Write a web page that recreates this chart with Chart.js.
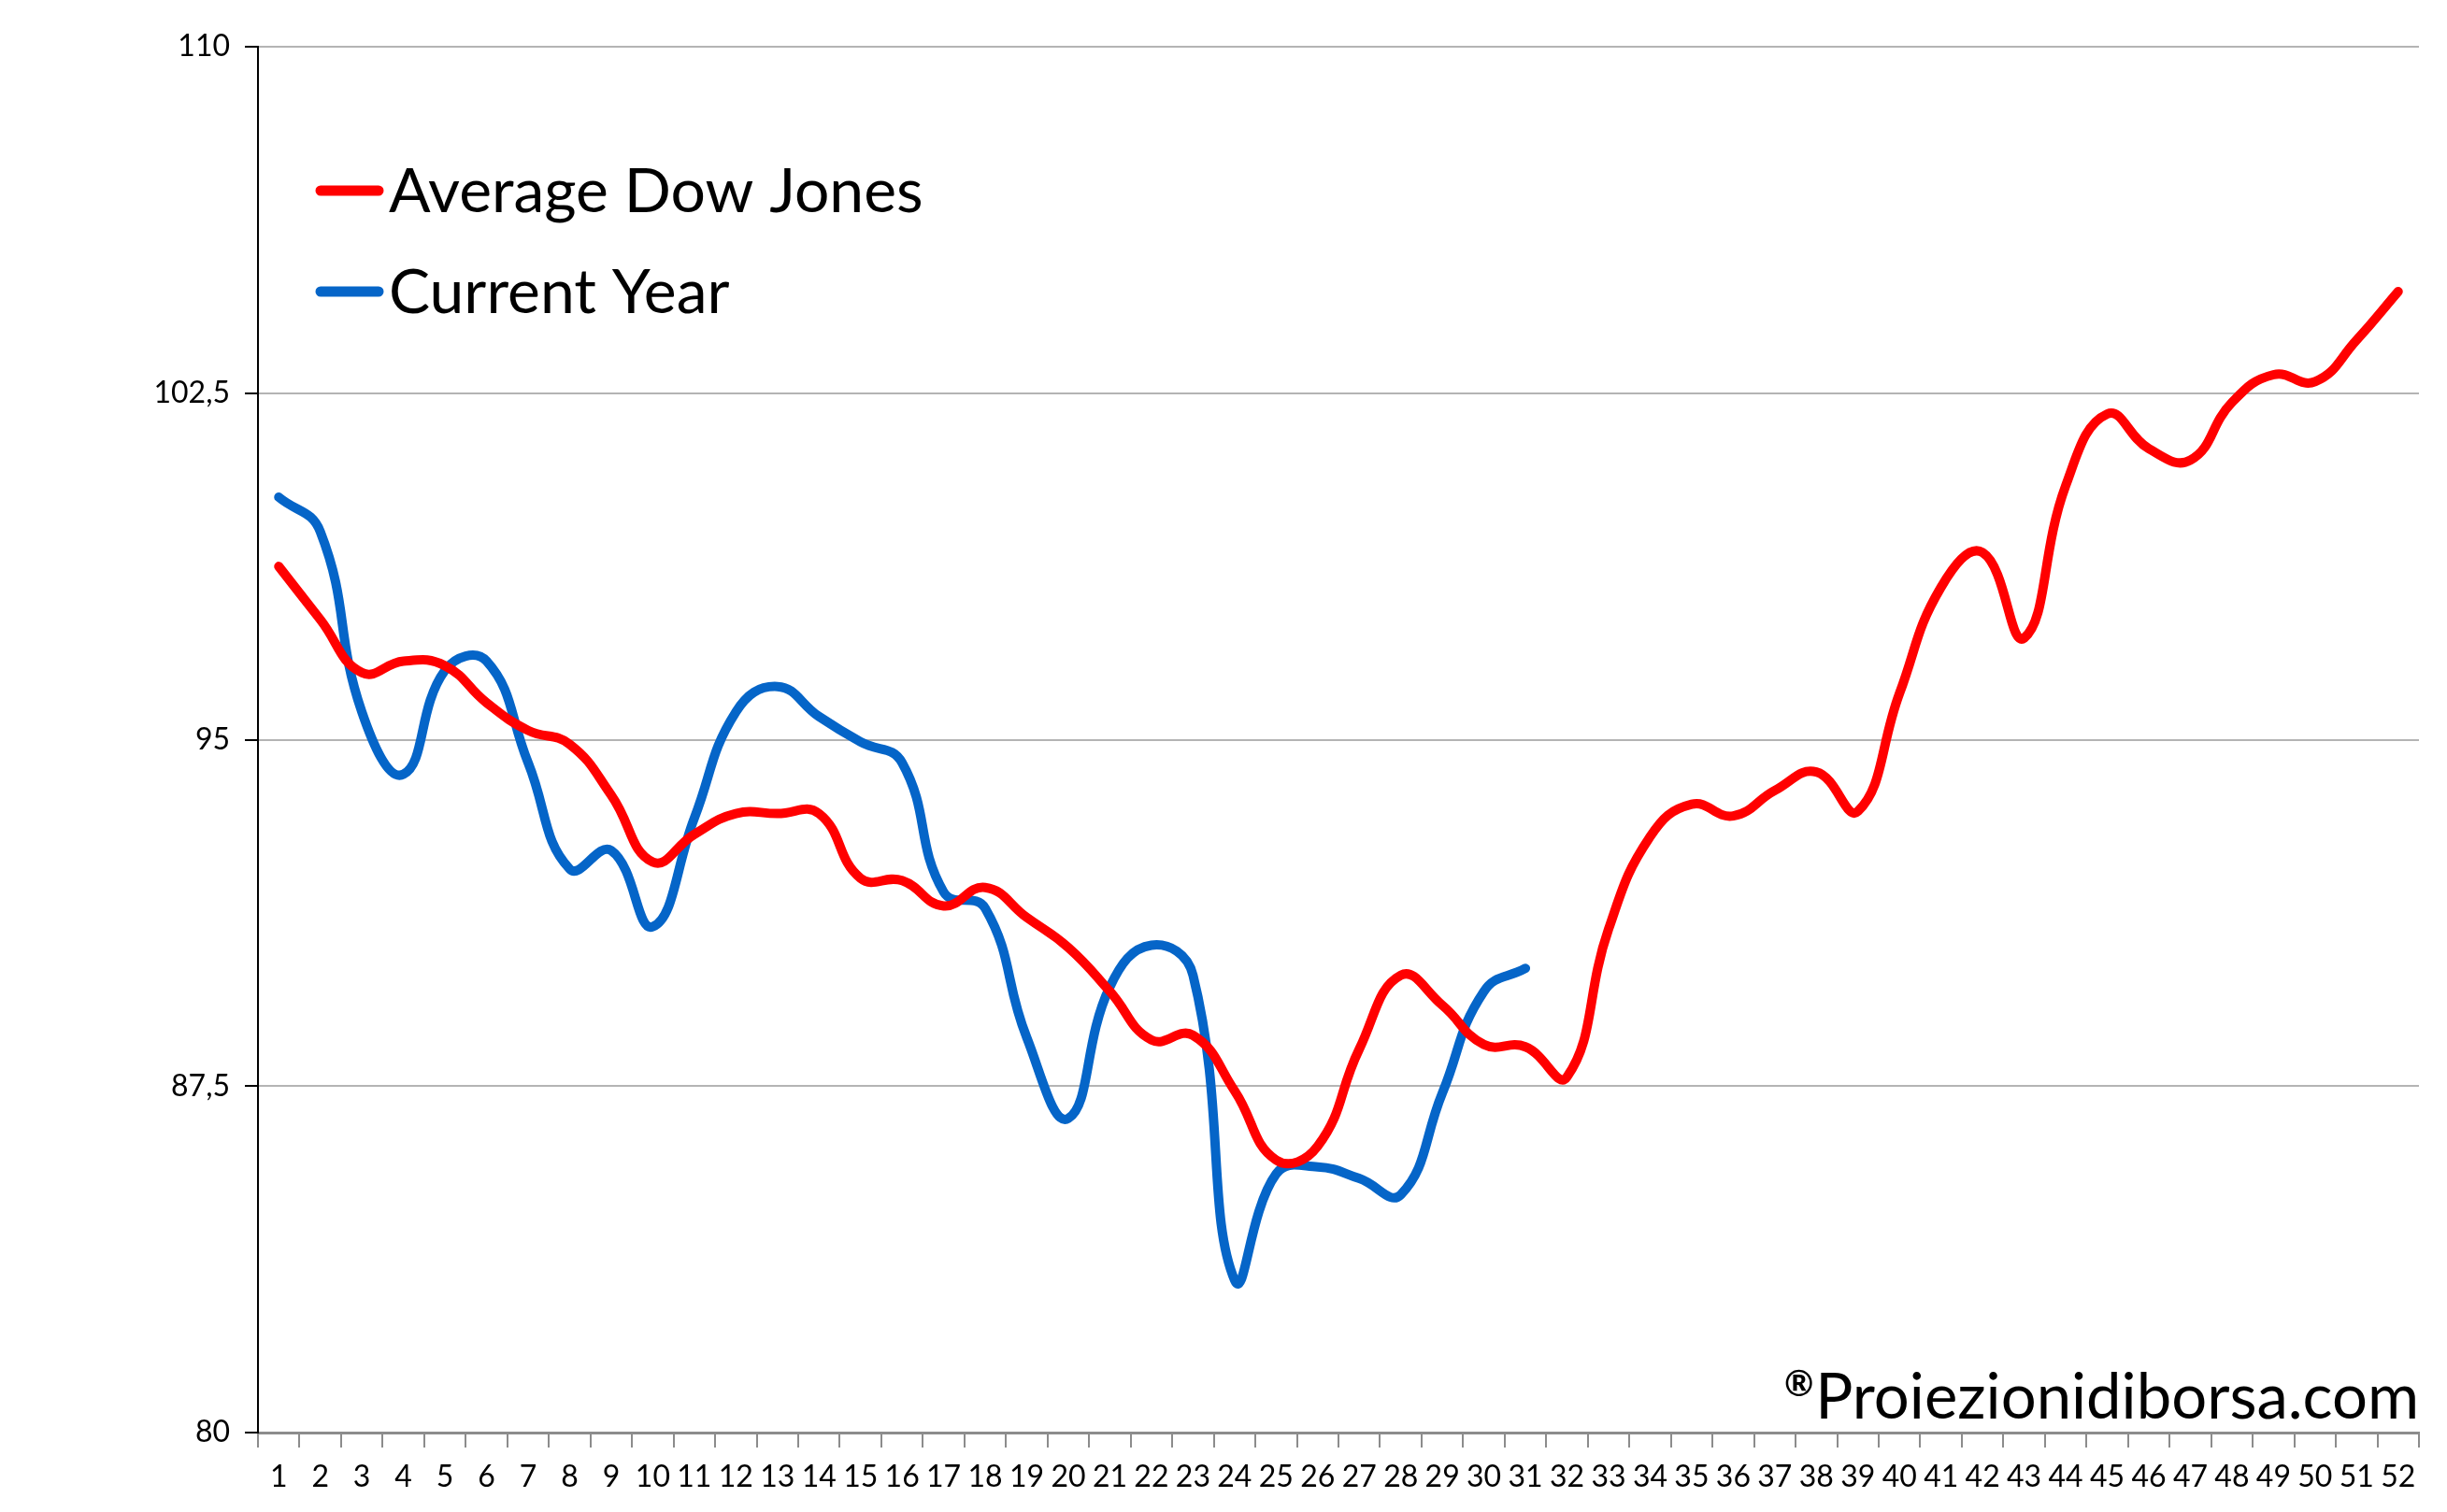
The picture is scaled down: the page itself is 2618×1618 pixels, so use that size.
<!DOCTYPE html>
<html>
<head>
<meta charset="utf-8">
<script src="https://cdn.jsdelivr.net/npm/chart.js@4.4.0/dist/chart.umd.min.js"></script>
<style>
  html, body { margin: 0; padding: 0; background: #fff; }
  #wrap { width: 2618px; height: 1618px; }
</style>
</head>
<body>
<div id="wrap"><canvas id="dowChart" width="2618" height="1618"></canvas></div>
<script>
const weeks = ['1','2','3','4','5','6','7','8','9','10','11','12','13','14','15','16','17','18','19','20',
    '21','22','23','24','25','26','27','28','29','30','31','32','33','34','35','36','37','38','39','40',
    '41','42','43','44','45','46','47','48','49','50','51','52'];

const averageDow = [98.75, 97.6, 96.45, 96.7, 96.6, 95.8, 95.2, 94.9, 93.8, 92.35,
    92.95, 93.4, 93.4, 93.4, 92.0, 91.95, 91.4, 91.8, 91.15, 90.5,
    89.55, 88.5, 88.6, 87.4, 85.9, 86.2, 88.3, 89.9, 89.25, 88.4,
    88.35, 87.7, 90.9, 92.9, 93.6, 93.35, 93.9, 94.3, 93.45, 96.0,
    98.3, 99.05, 97.2, 100.5, 102.05, 101.3, 101.05, 102.3, 102.9, 102.75,
    103.65, 104.7];

const currentYear = [100.25, 99.5, 95.6, 94.25, 96.5, 96.7, 94.5, 92.2, 92.6, 90.95,
    93.3, 95.6, 96.15, 95.5, 94.95, 94.5, 91.7, 91.35, 88.55, 86.8,
    89.65, 90.55, 89.9, 83.3, 85.6, 85.75, 85.5, 85.15, 87.35, 89.55,
    90.05];

const yTicks = [80, 87.5, 95, 102.5, 110];

const seriesNames = ['Average Dow Jones', 'Current Year'];
const seriesColors = ['#FF0000', '#0565C8'];
const watermarkMark = '\u00AE';
const watermark = 'Proiezionidiborsa.com';

const FONT = 'Lato, "Open Sans", sans-serif';

const overlayPlugin = {
    id: 'overlay',
    afterDraw(chart) {
        const ctx = chart.ctx;
        ctx.save();
        // legend
        ctx.lineCap = 'round';
        ctx.lineWidth = 11;
        ctx.font = '66px ' + FONT;
        ctx.textBaseline = 'middle';
        ctx.textAlign = 'left';
        seriesNames.forEach((name, i) => {
            const y = 204 + i * 108;
            ctx.strokeStyle = seriesColors[i];
            ctx.beginPath();
            ctx.moveTo(343, y);
            ctx.lineTo(405, y);
            ctx.stroke();
            ctx.fillStyle = '#000';
            ctx.fillText(name, 416, y + 2);
        });
        // watermark, small raised ® in front
        ctx.textAlign = 'right';
        ctx.textBaseline = 'alphabetic';
        ctx.font = '67px ' + FONT;
        const right = chart.chartArea.right;
        ctx.fillText(watermark, right, 1518);
        const w = ctx.measureText(watermark).width;
        ctx.font = 'bold 38px ' + FONT;
        ctx.fillText(watermarkMark, right - w - 2, 1494);
        ctx.restore();
    }
};

new Chart(document.getElementById('dowChart'), {
    type: 'line',
    data: {
        labels: weeks,
        datasets: [
            {
                label: seriesNames[0],
                data: averageDow,
                borderColor: seriesColors[0],
                borderWidth: 10,
                borderCapStyle: 'round',
                pointRadius: 0,
                tension: 0.45,
                fill: false
            },
            {
                label: seriesNames[1],
                data: currentYear,
                borderColor: seriesColors[1],
                borderWidth: 10,
                borderCapStyle: 'round',
                pointRadius: 0,
                tension: 0.45,
                fill: false
            }
        ]
    },
    options: {
        responsive: false,
        animation: false,
        devicePixelRatio: 1,
        layout: { padding: { left: 0, top: 50, right: 30, bottom: 0 } },
        plugins: {
            legend: { display: false },
            title: { display: false },
            tooltip: { enabled: false }
        },
        scales: {
            x: {
                type: 'category',
                offset: true,
                grid: {
                    offset: true,
                    drawOnChartArea: false,
                    drawTicks: true,
                    tickLength: 16,
                    tickColor: '#8c8c8c',
                    lineWidth: 2
                },
                border: { color: '#8c8c8c', width: 3 },
                ticks: {
                    color: '#000',
                    font: { family: FONT, size: 32 },
                    padding: 12,
                    maxRotation: 0,
                    autoSkip: false
                },
                afterFit(scale) { scale.height = 85; }
            },
            y: {
                min: 80,
                max: 110,
                afterBuildTicks(scale) {
                    scale.ticks = yTicks.map(v => ({ value: v }));
                },
                grid: {
                    color: '#b4b4b4',
                    lineWidth: 2,
                    tickLength: 14,
                    tickColor: '#000'
                },
                border: { color: '#000', width: 2 },
                ticks: {
                    color: '#000',
                    font: { family: FONT, size: 32 },
                    padding: 16,
                    callback: v => String(v).replace('.', ',')
                },
                afterFit(scale) { scale.width = 276; }
            }
        }
    },
    plugins: [overlayPlugin]
});
</script>
</body>
</html>
